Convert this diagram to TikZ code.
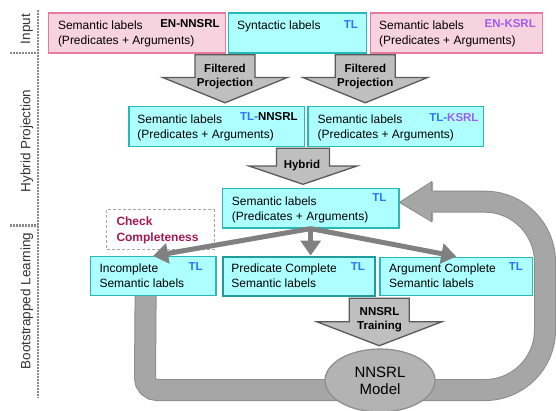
\documentclass[tikz,border=0pt]{standalone}
\usepackage{fontspec}
\setmainfont{Liberation Sans}
\usetikzlibrary{arrows.meta,calc,shapes.geometric}
\pgfdeclarelayer{background}
\pgfsetlayers{background,main}
\definecolor{pinkfill}{HTML}{F7D2DF}
\definecolor{pinkline}{HTML}{E77A9F}
\definecolor{cyanfill}{HTML}{AEFFFF}
\definecolor{cyanline}{HTML}{27B8B8}
\definecolor{tlblue}{HTML}{2575FF}
\definecolor{kpurple}{HTML}{A05CF2}
\definecolor{checkred}{HTML}{A3184F}
\definecolor{arrowfill}{HTML}{BFBFBF}
\definecolor{arrowline}{HTML}{5A5A5A}
\definecolor{loopfill}{HTML}{A6A6A6}
\definecolor{loopline}{HTML}{8C8C8C}
\definecolor{fanline}{HTML}{808080}
\definecolor{modelfill}{HTML}{B3B3B3}
\definecolor{dotline}{HTML}{8A8A8A}
\begin{document}
\begin{tikzpicture}[x=1pt,y=-1pt,
  box/.style={draw, line width=1.3pt, anchor=north west, inner sep=0pt, minimum height=40pt},
  pinkbox/.style={box, draw=pinkline, fill=pinkfill},
  cyanbox/.style={box, draw=cyanline, fill=cyanfill},
  txt/.style={anchor=north west, inner sep=0pt, align=left, font=\fontsize{12}{15}\selectfont},
  lab/.style={anchor=east, inner sep=0pt, font=\fontsize{11.5}{13}\selectfont\bfseries},
  blk/.style={draw=arrowline, fill=arrowfill, line width=1.3pt, line join=miter},
  blktxt/.style={inner sep=0pt, align=center, font=\fontsize{11.5}{14.3}\selectfont\bfseries},
  side/.style={rotate=90, inner sep=0pt, font=\fontsize{13.5}{15}\selectfont, text=black!80},
  dots/.style={draw=dotline, line width=2.2pt, dash pattern=on 1.5pt off 1.5pt},
  fan/.style={draw=fanline, line width=5pt, -{Triangle[width=20pt,length=15pt]}},
]
\useasboundingbox (0,0) rectangle (556,410);

% side structure
\draw[dots] (38,10) -- (38,398);
\draw[dots] (10,53.3) -- (38,53.3);
\draw[dots] (10,225.5) -- (38,225.5);
\node[side] (lin) at (27,29) {Input};
\node[side] (lhp) at (27,141) {Hybrid Projection};
\node[side] (lbl) at (27,301) {Bootstrapped Learning};

% boxes
\node[pinkbox, minimum width=176.6pt] (enn) at (47.9,12.3) {};
\node[cyanbox, minimum width=137.5pt] (syn) at (228,12.3) {};
\node[pinkbox, minimum width=171.5pt] (eks) at (370,12.3) {};
\node[cyanbox, minimum width=175.5pt] (tnn) at (128.4,105.7) {};
\node[cyanbox, minimum width=175.6pt] (tks) at (307.4,105.7) {};
\node[cyanbox, minimum width=176.6pt, minimum height=39.6pt] (sem) at (221.7,187.7) {};
\node[cyanbox, minimum width=125.5pt, minimum height=38.5pt] (inc) at (89.7,256) {};
\node[cyanbox, draw=cyanline!85!black, line width=2.2pt, minimum width=152.5pt, minimum height=39.5pt] (pred) at (221.6,255.5) {};
\node[cyanbox, minimum width=152.5pt, minimum height=38.5pt] (arg) at (379.4,256.5) {};

% box texts
\node[txt] (enn-t) at ($(enn.north west)+(9.9,8.3)$) {Semantic labels\\(Predicates + Arguments)};
\node[txt] (syn-t) at ($(syn.north west)+(9,8.3)$) {Syntactic labels};
\node[txt] (eks-t) at ($(eks.north west)+(9,8.3)$) {Semantic labels\\(Predicates + Arguments)};
\node[txt] (tnn-t) at ($(tnn.north west)+(8.8,8.6)$) {Semantic labels\\(Predicates + Arguments)};
\node[txt] (tks-t) at ($(tks.north west)+(10,8.6)$) {Semantic labels\\(Predicates + Arguments)};
\node[txt] (sem-t) at ($(sem.north west)+(10,8.6)$) {Semantic labels\\(Predicates + Arguments)};
\node[txt] (inc-t) at ($(inc.north west)+(9.6,7.4)$) {Incomplete\\Semantic labels};
\node[txt] (pred-t) at ($(pred.north west)+(9.6,7.8)$) {Predicate Complete\\Semantic labels};
\node[txt] (arg-t) at ($(arg.north west)+(9.6,7)$) {Argument Complete\\Semantic labels};

% labels
\node[lab] (enn-l) at (219.9,23.5) {EN-NNSRL};
\node[lab, text=tlblue] (syn-l) at (358.2,25) {TL};
\node[lab, text=kpurple] (eks-l) at (536,24) {EN-KSRL};
\node[lab] (tnn-l) at (297.9,117) {\textcolor{tlblue}{TL-}NNSRL};
\node[lab, text=kpurple] (tks-l) at (478.7,118) {\textcolor{tlblue}{TL-}KSRL};
\node[lab, text=tlblue] (sem-l) at (386.7,197.5) {TL};
\node[lab, text=tlblue] (inc-l) at (202.8,267) {TL};
\node[lab, text=tlblue] (pred-l) at (365,267) {TL};
\node[lab, text=tlblue] (arg-l) at (523,267) {TL};

% block arrows
\draw[blk] (195,54.8) -- (255,54.8) -- (255,77.5) -- (287.3,77.5) -- (225,102.8) -- (162.7,77.5) -- (195,77.5) -- cycle;
\draw[blk] (335.3,54.8) -- (395.3,54.8) -- (395.3,77.5) -- (427.6,77.5) -- (365.3,102.8) -- (303,77.5) -- (335.3,77.5) -- cycle;
\draw[blk] (276.5,148.3) -- (329.5,148.3) -- (329.5,166) -- (357,166) -- (303,184.3) -- (249,166) -- (276.5,166) -- cycle;
\draw[blk] (349.3,298.3) -- (409.3,298.3) -- (409.3,321.7) -- (441.9,321.7) -- (379.3,345.7) -- (316.7,321.7) -- (349.3,321.7) -- cycle;
\node[blktxt] (fp1) at (225,76.5) {Filtered\\Projection};
\node[blktxt] (fp2) at (365.3,76.5) {Filtered\\Projection};
\node[blktxt, anchor=base] (hyb) at (302,168.4) {Hybrid};
\node[blktxt] (trn) at (379.5,319.8) {NNSRL\\Training};

% check completeness
\node[draw=gray!70, dash pattern=on 3pt off 2pt, line width=0.9pt, anchor=north west, minimum width=107.4pt, minimum height=39.7pt, inner sep=0pt] (chk) at (106.4,209.3) {};
\node[anchor=north west, inner sep=0pt, align=left, font=\fontsize{12}{15.7}\selectfont\bfseries, text=checkred] (chk-t) at (116.3,216.6) {Check\\Completeness};

% fan arrows
\draw[fan] (sem.south) -- (inc.north);
\draw[fan] (sem.south) -- (sem.south |- pred.north);
\draw[fan] (sem.south) -- (arg.north);

% feedback loop
\begin{pgfonlayer}{background}
\coordinate (ls) at ($(inc.south)+(-7.5,0)$);
\coordinate (lt) at ($(sem.east)+(0,-5.8)$);
\draw[loopline, line width=22pt] (ls) -- (145,378) .. controls (145,384.6) and (150.4,390) .. (157,390) -- (485,390) .. controls (518.1,390) and (545,363.1) .. (545,330) -- (545,262) .. controls (545,228.9) and (518.1,201.7) .. (485,201.7) -- (432,201.7);
\draw[loopfill, line width=20pt] (ls) -- (145,378) .. controls (145,384.6) and (150.4,390) .. (157,390) -- (485,390) .. controls (518.1,390) and (545,363.1) .. (545,330) -- (545,262) .. controls (545,228.9) and (518.1,201.7) .. (485,201.7) -- (432,201.7);
\fill[loopfill] (433,181.7) -- (lt) -- (433,221.7) -- cycle;
\draw[loopline, line width=1pt, line join=miter] (431.7,191.2) -- (431.7,181.7) -- (lt) -- (431.7,221.7) -- (431.7,212.2);
\end{pgfonlayer}

% model
\node[ellipse, draw=loopline, fill=modelfill, line width=1.2pt, minimum width=110pt, minimum height=63pt, inner sep=0pt, align=center, font=\fontsize{15}{16.7}\selectfont] (model) at (380,380.5) {NNSRL\\Model};
\end{tikzpicture}
\end{document}
